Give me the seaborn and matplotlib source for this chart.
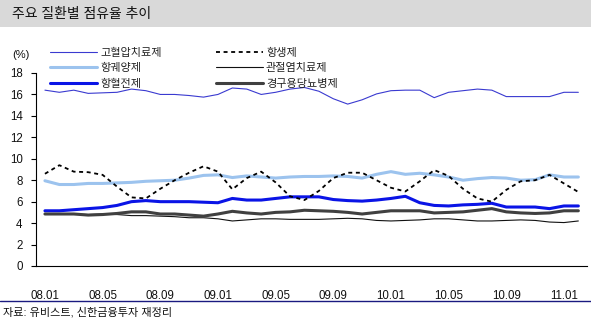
import numpy as np
import pandas as pd
import matplotlib
matplotlib.use("Agg")
import matplotlib.pyplot as plt
import seaborn as sns
from matplotlib.lines import Line2D
from matplotlib.patches import Rectangle

# Monthly share (%) by therapeutic class, 2008.01 - 2011.02
months = pd.period_range("2008-01", "2011-02", freq="M").strftime("%y.%m").tolist()

hypertension = [16.4, 16.2, 16.4, 16.1, 16.15, 16.2, 16.5, 16.35, 16.0, 16.0,
                15.9, 15.75, 16.0, 16.6, 16.5, 16.0, 16.2, 16.5, 16.65, 16.3,
                15.6, 15.1, 15.5, 16.05, 16.35, 16.4, 16.4, 15.7, 16.2, 16.35,
                16.5, 16.4, 15.8, 15.8, 15.8, 15.8, 16.2, 16.2]
antibiotics = [8.6, 9.4, 8.8, 8.75, 8.5, 7.4, 6.4, 6.3, 7.2, 8.0,
               8.7, 9.3, 8.8, 7.15, 8.2, 8.8, 7.8, 6.5, 6.15, 7.0,
               8.2, 8.7, 8.7, 8.0, 7.3, 6.95, 7.9, 8.95, 8.4, 7.2,
               6.3, 6.0, 7.1, 7.9, 8.0, 8.5, 7.7, 6.9]
antiulcer = [7.95, 7.6, 7.6, 7.7, 7.7, 7.75, 7.8, 7.9, 7.95, 8.0,
             8.2, 8.45, 8.5, 8.25, 8.4, 8.3, 8.2, 8.3, 8.35, 8.35,
             8.4, 8.35, 8.2, 8.55, 8.8, 8.55, 8.65, 8.5, 8.3, 8.0,
             8.15, 8.25, 8.2, 8.0, 8.05, 8.5, 8.3, 8.3]
arthritis = [4.85, 4.85, 4.85, 4.8, 4.85, 4.8, 4.7, 4.7, 4.65, 4.6,
             4.5, 4.5, 4.4, 4.2, 4.3, 4.4, 4.4, 4.35, 4.35, 4.35,
             4.4, 4.45, 4.4, 4.25, 4.2, 4.25, 4.3, 4.4, 4.4, 4.3,
             4.2, 4.2, 4.25, 4.3, 4.25, 4.1, 4.05, 4.2]
antithrombotic = [5.15, 5.15, 5.25, 5.35, 5.45, 5.65, 6.0, 6.1, 6.0, 6.0,
                  6.0, 5.95, 5.9, 6.3, 6.15, 6.15, 6.3, 6.45, 6.45, 6.45,
                  6.2, 6.1, 6.05, 6.15, 6.3, 6.5, 5.9, 5.65, 5.6, 5.7,
                  5.75, 5.85, 5.5, 5.5, 5.5, 5.35, 5.6, 5.6]
diabetes = [4.85, 4.85, 4.85, 4.75, 4.8, 4.9, 5.05, 5.05, 4.85, 4.85,
            4.75, 4.65, 4.85, 5.1, 4.95, 4.85, 5.0, 5.05, 5.2, 5.15,
            5.1, 5.0, 4.85, 5.0, 5.15, 5.15, 5.15, 4.95, 5.0, 5.05,
            5.2, 5.35, 5.05, 4.95, 4.9, 4.95, 5.15, 5.15]

tick_labels = ["08.01", "08.05", "08.09", "09.01", "09.05",
               "09.09", "10.01", "10.05", "10.09", "11.01"]

sns.set_theme(style="white")
plt.rcParams["font.family"] = ["Liberation Sans", "Noto Sans CJK KR"]

W, H = 591, 323
fig = plt.figure(figsize=(W / 100, H / 100), dpi=100)
ax = fig.add_axes([36 / W, 57 / H, 551 / W, 193 / H])

x = np.arange(len(months))
series = [
    ("고혈압치료제", hypertension, "#3A3AD0", 0.8, None),
    ("항궤양제", antiulcer, "#9CC3EE", 2.2, None),
    ("항혈전제", antithrombotic, "#0A14E6", 2.2, None),
    ("항생제", antibiotics, "#000000", 1.3, [2.2, 2.0]),
    ("관절염치료제", arthritis, "#111111", 0.8, None),
    ("경구용당뇨병제", diabetes, "#404040", 2.2, None),
]

handles = []
for name, vals, color, lw, dashes in series:
    sns.lineplot(x=x, y=vals, ax=ax, color=color, linewidth=lw)
    line = ax.lines[-1]
    if dashes:
        line.set_dashes(dashes)
    handles.append(Line2D([], [], color=color, linewidth=lw,
                          dashes=dashes if dashes else (None, None)))

ax.set_xlim(-0.62, 37.6)
ax.set_ylim(0, 18)
ax.set_yticks(range(0, 19, 2))
ax.set_xticks(range(0, 37, 4))
ax.set_xticklabels(tick_labels)
ax.set_xlabel("")
ax.set_ylabel("")

for side in ["top", "right"]:
    ax.spines[side].set_visible(False)
for side in ["left", "bottom"]:
    ax.spines[side].set_color("black")
    ax.spines[side].set_linewidth(0.8)

ax.tick_params(axis="y", left=True, direction="out", length=3.6, width=0.8,
               color="black", labelsize=8.3, pad=6, labelcolor="#111111")
ax.tick_params(axis="x", bottom=False, labelsize=8.3, pad=11, labelcolor="#111111")

leg = ax.legend(handles, [s[0] for s in series], ncol=2, loc="upper left",
                bbox_to_anchor=(50 / W, 1 - 47.5 / H), bbox_transform=fig.transFigure,
                frameon=False, fontsize=8, handlelength=4.2, handletextpad=0.3,
                columnspacing=4.9, labelspacing=0.5, borderpad=0, borderaxespad=0)
for t in leg.get_texts():
    t.set_color("#222222")

# header band
fig.patches.append(Rectangle((0, 1 - 27 / H), 1, 27 / H, transform=fig.transFigure,
                             facecolor="#D9D9D9", edgecolor="none", zorder=0))
fig.text(12 / W, 1 - 14 / H, "주요 질환별 점유율 추이", fontsize=10,
         va="center", ha="left", color="#111111", fontweight="medium")

fig.text(12 / W, 1 - 55 / H, "(%)", fontsize=8, va="center", ha="left", color="#111111")

# footer rule and source
fig.add_artist(Line2D([0, 1], [1 - 301 / H] * 2, transform=fig.transFigure,
                      color="#1A1A80", linewidth=1))
fig.text(3 / W, 1 - 312 / H, "자료: 유비스트, 신한금융투자 재정리", fontsize=8,
         va="center", ha="left", color="#111111")

fig.savefig("out.png", dpi=100)
